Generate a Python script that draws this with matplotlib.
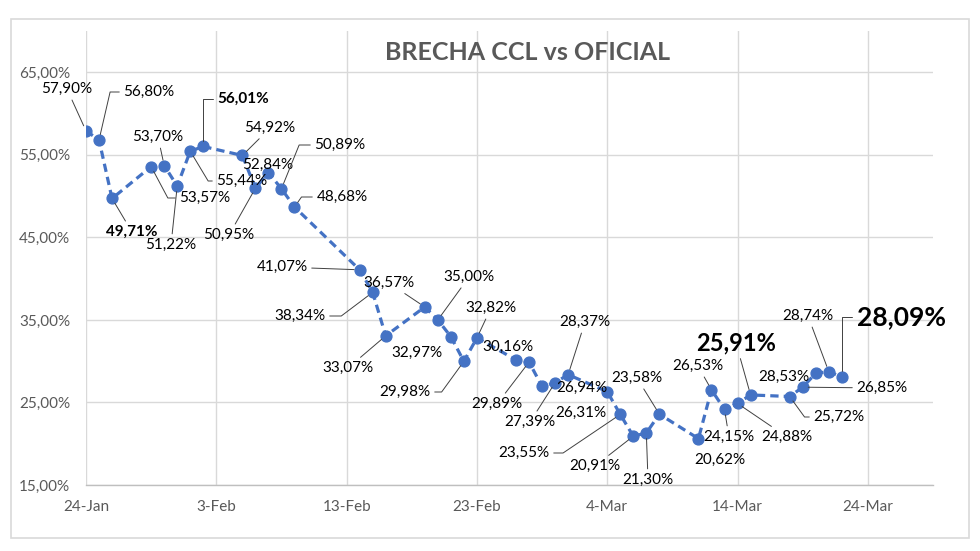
import matplotlib
matplotlib.use('Agg')
import matplotlib.pyplot as plt
import matplotlib.dates as mdates
from matplotlib.patches import Rectangle
import numpy as np

plt.rcParams['font.family'] = ['Lato', 'DejaVu Sans']

title = 'BRECHA CCL vs OFICIAL'
dates = ['2024-01-24', '2024-01-25', '2024-01-26', '2024-01-29', '2024-01-30', '2024-01-31',
         '2024-02-01', '2024-02-02', '2024-02-05', '2024-02-06', '2024-02-07', '2024-02-08',
         '2024-02-09', '2024-02-14', '2024-02-15', '2024-02-16', '2024-02-19', '2024-02-20',
         '2024-02-21', '2024-02-22', '2024-02-23', '2024-02-26', '2024-02-27', '2024-02-28',
         '2024-02-29', '2024-03-01', '2024-03-04', '2024-03-05', '2024-03-06', '2024-03-07',
         '2024-03-08', '2024-03-11', '2024-03-12', '2024-03-13', '2024-03-14', '2024-03-15',
         '2024-03-18', '2024-03-19', '2024-03-20', '2024-03-21', '2024-03-22']
brecha = [57.90, 56.80, 49.71, 53.57, 53.70, 51.22,
          55.44, 56.01, 54.92, 50.95, 52.84, 50.89,
          48.68, 41.07, 38.34, 33.07, 36.57, 35.00,
          32.97, 29.98, 32.82, 30.16, 29.89, 26.94,
          27.39, 28.37, 26.31, 23.55, 20.91, 21.30,
          23.58, 20.62, 26.53, 24.15, 24.88, 25.91,
          25.72, 26.85, 28.53, 28.74, 28.09]
tickDates = ['2024-01-24', '2024-02-03', '2024-02-13', '2024-02-23', '2024-03-04', '2024-03-14', '2024-03-24']
tickLabels = ['24-Jan', '3-Feb', '13-Feb', '23-Feb', '4-Mar', '14-Mar', '24-Mar']
yTicks = [15, 25, 35, 45, 55, 65]
yTickLabels = ['15,00%', '25,00%', '35,00%', '45,00%', '55,00%', '65,00%']

# where the data labels sit (figure pixels from top-left) and how the leader line is drawn
labelPos = [(67, 89), (149, 92), (132, 232), (205, 198), (158, 137), (171, 245),
            (242, 181), (243, 99), (270, 128), (229, 235), (268, 165), (340, 145),
            (342, 197), (282, 267), (300, 316), (348, 368), (389, 283), (469, 277),
            (417, 353), (405, 392), (491, 308), (508, 347), (497, 404), (582, 388),
            (530, 422), (585, 322), (581, 413), (524, 453), (595, 466), (648, 480),
            (637, 378), (720, 460), (698, 366), (729, 437), (787, 437), (736, 343),
            (839, 417), (882, 388), (784, 377), (808, 316), (901, 317)]
noLeader = [10, 18, 21, 23, 26, 31, 38]
# elbow leaders: horizontal stub at the label, then a segment at this angle to the point
elbow = {1: 77, 3: -62, 6: -59, 7: 90, 11: 68, 12: 55, 14: 37, 19: 54, 27: 34, 36: -54, 40: 90}
boldLabels = {2: 11, 7: 11, 35: 17, 40: 19}

W, H = 980, 551
fig = plt.figure(figsize=(W / 100, H / 100), dpi=100)
fig.patches.append(Rectangle((11 / W, 1 - 538 / H), (969 - 11) / W, (538 - 19) / H,
                             transform=fig.transFigure, fill=False, edgecolor='#D9D9D9', lw=1.2))
ax = fig.add_axes([86 / W, 1 - 485 / H, (933 - 86) / W, (485 - 31) / H])

x = mdates.date2num(np.array(dates, dtype='datetime64[D]'))
xt = mdates.date2num(np.array(tickDates, dtype='datetime64[D]'))

ax.plot(x, brecha, color='#4472C4', lw=2.3, dashes=(2.6, 1.6),
        marker='o', markersize=7.8, markerfacecolor='#4472C4', markeredgecolor='#4472C4', zorder=3)

ax.set_xlim(xt[0], xt[0] + 65)
ax.set_ylim(15, 70)
ax.set_xticks(xt)
ax.set_xticklabels(tickLabels)
ax.set_yticks(yTicks)
ax.set_yticklabels(yTickLabels)
ax.tick_params(length=0, labelsize=11, labelcolor='#595959')
ax.tick_params(axis='x', pad=11)
ax.tick_params(axis='y', pad=11.5)
ax.grid(True, color='#D9D9D9', lw=1)
ax.set_axisbelow(True)
for s in ['top', 'right', 'left']:
  ax.spines[s].set_visible(False)
ax.spines['bottom'].set_color('#BFBFBF')
ax.spines['bottom'].set_linewidth(1)

for i in range(len(brecha)):
  txt = f'{brecha[i]:.2f}'.replace('.', ',') + '%'
  px, py = labelPos[i]
  size = boldLabels.get(i, 11)
  weight = 'bold' if i in boldLabels else 'normal'
  arrow = None
  if i not in noLeader:
    arrow = dict(arrowstyle='-', color='#404040', lw=0.7, shrinkA=1, shrinkB=4)
    if i in elbow:
      arrow['connectionstyle'] = f'angle,angleA=0,angleB={elbow[i]},rad=0'
  ax.annotate(txt, xy=(x[i], brecha[i]), xytext=(px, H - py), textcoords='figure pixels',
              ha='center', va='center', fontsize=size, fontweight=weight, color='black',
              arrowprops=arrow, zorder=4)

fig.text(528 / W, 1 - 52 / H, title, ha='center', va='center', fontsize=18,
         fontweight='bold', color='#595959')

plt.savefig('out.png', dpi=100)
